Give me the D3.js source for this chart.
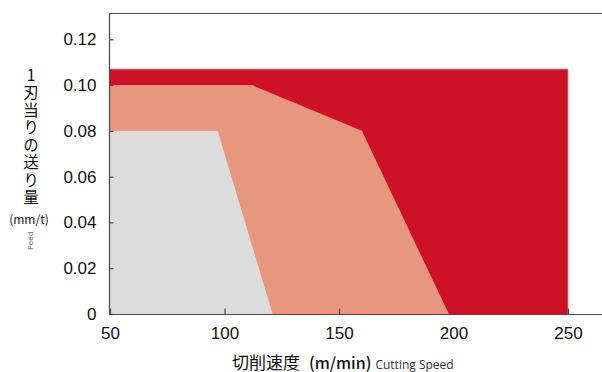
<!DOCTYPE html>
<html>
<head>
<meta charset="utf-8">
<script src="https://cdn.jsdelivr.net/npm/d3@7"></script>
<style>
  body { margin: 0; background: #fff; }
  svg { display: block; }
  .vtitle { writing-mode: vertical-rl; text-orientation: upright; }
</style>
</head>
<body>
<svg id="chart" width="602" height="372"></svg>
<script>
// Cutting condition zones: feed per tooth (mm/t) versus cutting speed (m/min)
const zoneNames = ["high", "mid", "low"];
const zoneColors = ["#CD1126", "#E6977D", "#DCDCDC"];
const highSpeed = [50, 250, 250, 50];
const highFeed  = [0.107, 0.107, 0, 0];
const midSpeed  = [50, 112, 160, 198, 50];
const midFeed   = [0.10, 0.10, 0.08, 0, 0];
const lowSpeed  = [50, 97, 121, 50];
const lowFeed   = [0.08, 0.08, 0, 0];
const xTicks = [50, 100, 150, 200, 250];
const yTicks = [0, 0.02, 0.04, 0.06, 0.08, 0.10, 0.12];
const yTickLabels = ["0", "0.02", "0.04", "0.06", "0.08", "0.10", "0.12"];
const yTitle = "1刃当りの送り量";

const svg = d3.select("#chart");
const frame = { left: 109.5, top: 13.5, bottom: 314.5, right: 610 };

const x = d3.scaleLinear().domain([50, 250]).range([110, 568]);
const y = d3.scaleLinear().domain([0, 0.12]).range([314, 39.3]);

const zones = [
  { name: zoneNames[0], s: highSpeed, f: highFeed },
  { name: zoneNames[1], s: midSpeed, f: midFeed },
  { name: zoneNames[2], s: lowSpeed, f: lowFeed }
];
const line = d3.line().x(d => x(d[0])).y(d => y(d[1]));

svg.append("g").selectAll("path")
  .data(zones)
  .join("path")
  .attr("d", z => line(d3.zip(z.s, z.f)) + "Z")
  .attr("fill", (z, i) => zoneColors[i]);

// faint edge around the outer zone
svg.append("path")
  .attr("d", `M${x(50)},${y(highFeed[0])}H${x(highSpeed[1])}V${y(0)}`)
  .attr("fill", "none")
  .attr("stroke", "#E88A94")
  .attr("stroke-width", 0.8);

const axisColor = "#4a4a4a";
const font = "'Liberation Sans', Arial, Helvetica, sans-serif";

// frame: top, left and bottom edges
svg.append("path")
  .attr("d", `M${frame.right},${frame.top}H${frame.left}V${frame.bottom}H${frame.right}`)
  .attr("fill", "none")
  .attr("stroke", axisColor)
  .attr("stroke-width", 1.2);

// x axis with inward ticks
const xAxis = d3.axisBottom(x).tickValues(xTicks).tickSize(-6).tickPadding(12).tickFormat(d3.format("d"));
const gx = svg.append("g").attr("transform", `translate(0,${frame.bottom})`).call(xAxis);
gx.select(".domain").remove();
gx.selectAll("line").attr("stroke", axisColor).attr("stroke-width", 1.2);
gx.selectAll("text").attr("font-family", font).attr("font-size", 17).attr("fill", "#111");

// y axis with inward ticks
const yAxis = d3.axisLeft(y).tickValues(yTicks).tickSize(-4).tickPadding(13)
  .tickFormat((d, i) => yTickLabels[i]);
const gy = svg.append("g").attr("transform", `translate(${frame.left},0)`).call(yAxis);
gy.select(".domain").remove();
gy.selectAll("line").attr("stroke", axisColor).attr("stroke-width", 1.2);
gy.selectAll("text").attr("font-family", font).attr("font-size", 17).attr("fill", "#111");

// vertical Japanese y-axis title
const jp = "'Noto Sans CJK JP', 'Noto Sans', sans-serif";
svg.append("text")
  .attr("class", "vtitle")
  .attr("x", 31).attr("y", 67)
  .attr("font-family", jp)
  .attr("font-size", 15.5)
  .attr("letter-spacing", 2)
  .attr("fill", "#111")
  .text(yTitle);

svg.append("text")
  .attr("x", 29).attr("y", 224)
  .attr("text-anchor", "middle")
  .attr("font-family", jp)
  .attr("font-size", 12)
  .attr("fill", "#111")
  .text("(mm/t)");

svg.append("text")
  .attr("transform", "translate(33,241) rotate(-90)")
  .attr("text-anchor", "middle")
  .attr("font-family", font)
  .attr("font-size", 8)
  .attr("fill", "#666")
  .text("Feed");

// x-axis title
const xt = svg.append("text")
  .attr("x", 232).attr("y", 368.5)
  .attr("font-family", jp)
  .attr("fill", "#111");
xt.append("tspan").attr("font-size", 17).text("切削速度");
xt.append("tspan").attr("font-size", 16).attr("font-weight", 500).attr("dx", 9).text("(m/min)");
xt.append("tspan").attr("font-size", 12).attr("font-family", "'Open Sans', sans-serif")
  .attr("fill", "#333").attr("dx", 4).text("Cutting Speed");
</script>
</body>
</html>
